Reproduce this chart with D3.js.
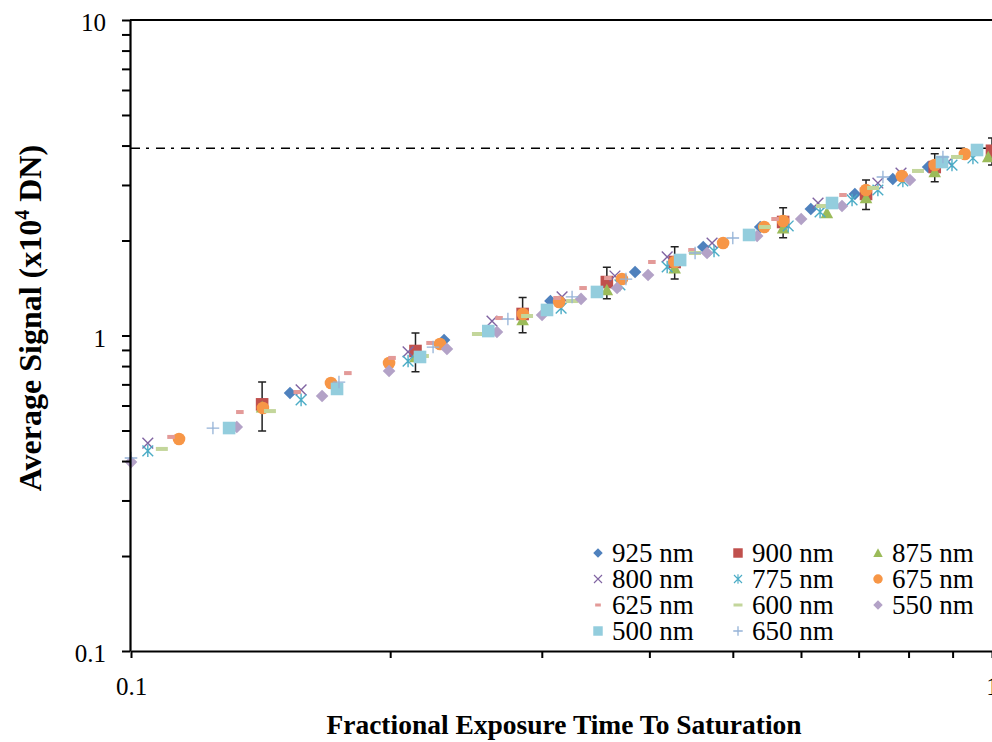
<!DOCTYPE html>
<html>
<head>
<meta charset="utf-8">
<script src="https://cdn.jsdelivr.net/npm/d3@7"></script>
<style>
  body { margin: 0; background: #fff; }
  svg text { font-family: "Liberation Serif", "Times New Roman", Times, serif !important; fill: #000; }
</style>
</head>
<body>
<svg id="chart" width="992" height="742"></svg>
<script>
// values: x = fraction of saturation exposure, y = signal in 1e4 DN
const x925 = [0.153, 0.231, 0.307, 0.385, 0.462, 0.538, 0.616, 0.693, 0.767, 0.843];
const y925 = [0.657, 0.968, 1.286, 1.590, 1.908, 2.207, 2.518, 2.809, 3.133, 3.420];
const x900 = [0.142, 0.214, 0.285, 0.357, 0.428, 0.572, 0.714, 0.858, 1.0];
const y900 = [0.605, 0.893, 1.170, 1.477, 1.710, 2.290, 2.810, 3.420, 3.850];
const err900 = [0.107, 0.125, 0.150, 0.170, 0.200, 0.250, 0.300, 0.350, 0.380];
const x875 = [0.142, 0.214, 0.285, 0.357, 0.428, 0.572, 0.643, 0.714, 0.858, 0.99];
const y875 = [0.593, 0.855, 1.120, 1.394, 1.636, 2.191, 2.445, 2.729, 3.298, 3.680];
const x800 = [0.1046, 0.1576, 0.2098, 0.2626, 0.3167, 0.3648, 0.4195, 0.473, 0.628, 0.737, 0.784, 0.889];
const y800 = [0.456, 0.672, 0.887, 1.111, 1.325, 1.544, 1.774, 1.964, 2.630, 3.043, 3.274, 3.547];
const x775 = [0.1046, 0.1576, 0.2098, 0.3159, 0.3697, 0.4195, 0.4755, 0.5798, 0.6314, 0.6878, 0.737, 0.7879, 0.8985, 0.9503];
const y775 = [0.431, 0.625, 0.830, 1.222, 1.446, 1.649, 1.853, 2.224, 2.463, 2.689, 2.892, 3.088, 3.470, 3.652];
const x675 = [0.1137, 0.1423, 0.1707, 0.1994, 0.2285, 0.2852, 0.3142, 0.3717, 0.428, 0.4872, 0.5438, 0.572, 0.714, 0.7858, 0.858, 0.930];
const y675 = [0.470, 0.589, 0.707, 0.818, 0.940, 1.170, 1.277, 1.510, 1.710, 1.964, 2.207, 2.306, 2.892, 3.203, 3.470, 3.761];
const x625 = [0.1113, 0.1338, 0.156, 0.1786, 0.201, 0.2225, 0.2676, 0.3125, 0.335, 0.358, 0.4027, 0.4483, 0.5598, 0.6713];
const y625 = [0.477, 0.572, 0.662, 0.760, 0.849, 0.947, 1.136, 1.315, 1.414, 1.521, 1.710, 1.866, 2.340, 2.788];
const x600 = [0.1086, 0.145, 0.2183, 0.2529, 0.2884, 0.3253, 0.4519, 0.545, 0.6348, 0.7275, 0.8204, 0.9107];
const y600 = [0.437, 0.576, 0.861, 1.011, 1.153, 1.286, 1.826, 2.207, 2.573, 2.935, 3.323, 3.680];
const x550 = [0.1, 0.1327, 0.1667, 0.1994, 0.2328, 0.2661, 0.3002, 0.3332, 0.3669, 0.3986, 0.4667, 0.5336, 0.6003, 0.6696, 0.803];
const y550 = [0.397, 0.513, 0.643, 0.772, 0.906, 1.026, 1.161, 1.306, 1.414, 1.555, 1.826, 2.068, 2.340, 2.573, 3.111];
const x500 = [0.130, 0.1735, 0.2166, 0.260, 0.3042, 0.3477, 0.4343, 0.5222, 0.6519, 0.8748, 0.9607];
const y500 = [0.509, 0.677, 0.855, 1.033, 1.205, 1.374, 1.735, 2.083, 2.630, 3.547, 3.872];
const x650 = [0.1, 0.1245, 0.1744, 0.2243, 0.274, 0.3253, 0.3757, 0.452, 0.50, 0.747, 0.877];
const y650 = [0.409, 0.509, 0.712, 0.919, 1.128, 1.325, 1.510, 1.826, 2.037, 3.180, 3.680];

const saturation = 3.92;
const xTickLabels = [0.1, 1];
const yTickLabels = [0.1, 1, 10];

const series = [
  {name: '925 nm', color: '#4F81BD', shape: 'diamond', x: x925, y: y925},
  {name: '900 nm', color: '#C0504D', shape: 'square', x: x900, y: y900, err: err900},
  {name: '875 nm', color: '#9BBB59', shape: 'triangle', x: x875, y: y875},
  {name: '800 nm', color: '#8064A2', shape: 'x', x: x800, y: y800},
  {name: '775 nm', color: '#4BACC6', shape: 'star', x: x775, y: y775},
  {name: '675 nm', color: '#F79646', shape: 'circle', x: x675, y: y675},
  {name: '625 nm', color: '#E39A98', shape: 'dashShort', x: x625, y: y625},
  {name: '600 nm', color: '#C3D69B', shape: 'dash', x: x600, y: y600},
  {name: '550 nm', color: '#B3A2C7', shape: 'diamond', x: x550, y: y550},
  {name: '500 nm', color: '#93CDDD', shape: 'square', x: x500, y: y500},
  {name: '650 nm', color: '#95B3D7', shape: 'plus', x: x650, y: y650}
];

const SERIF = 'Liberation Serif';
const svg = d3.select('#chart');
const plotL = 131, plotR = 992, plotT = 20, plotB = 651;

const x = d3.scaleLog().domain([0.1, 1]).range([plotL, plotR]);
const y = d3.scaleLog().domain([0.1, 10]).range([plotB, plotT]);

// marker drawing, k scales the size (legend markers are smaller)
function marker(g, shape, color, k) {
  const s = 6.3 * k;
  if (shape === 'diamond') {
    g.append('path').attr('d', `M0,${-s}L${s},0L0,${s}L${-s},0Z`).attr('fill', color);
  } else if (shape === 'square') {
    g.append('rect').attr('x', -s).attr('y', -s).attr('width', 2 * s).attr('height', 2 * s).attr('fill', color);
  } else if (shape === 'triangle') {
    g.append('path').attr('d', `M0,${-s}L${s},${s * 0.85}L${-s},${s * 0.85}Z`).attr('fill', color);
  } else if (shape === 'circle') {
    g.append('circle').attr('r', s).attr('fill', color);
  } else if (shape === 'x' || shape === 'star') {
    const a = s * 0.85;
    g.append('path').attr('d', `M${-a},${-a}L${a},${a}M${-a},${a}L${a},${-a}` + (shape === 'star' ? `M0,${-s}L0,${s}` : ''))
      .attr('stroke', color).attr('stroke-width', 1.4 * Math.max(k, 0.8)).attr('fill', 'none');
  } else if (shape === 'plus') {
    g.append('path').attr('d', `M${-s},0L${s},0M0,${-s}L0,${s}`)
      .attr('stroke', color).attr('stroke-width', 1.3).attr('fill', 'none');
  } else if (shape === 'dash' || shape === 'dashShort') {
    const w = shape === 'dash' ? s * 1.9 : s * 1.2;
    g.append('rect').attr('x', -w / 2).attr('y', -2 * k).attr('width', w).attr('height', 4 * k).attr('fill', color);
  }
}

// saturation level
svg.append('line')
  .attr('x1', plotL).attr('x2', plotR - 6)
  .attr('y1', y(saturation)).attr('y2', y(saturation))
  .attr('stroke', '#000').attr('stroke-width', 1.6)
  .attr('stroke-dasharray', '9,6,3,7');

// data
series.forEach(sr => {
  const g = svg.append('g');
  if (sr.err) {
    sr.x.forEach((xv, i) => {
      const lo = y(sr.y[i] - sr.err[i]), hi = y(sr.y[i] + sr.err[i]), cx = x(xv);
      g.append('path')
        .attr('d', `M${cx},${lo}L${cx},${hi}M${cx - 4},${lo}L${cx + 4},${lo}M${cx - 4},${hi}L${cx + 4},${hi}`)
        .attr('stroke', '#222').attr('stroke-width', 1.5).attr('fill', 'none');
    });
  }
  sr.x.forEach((xv, i) => {
    const m = g.append('g').attr('transform', `translate(${x(xv)},${y(sr.y[i])})`);
    marker(m, sr.shape, sr.color, 1);
  });
});

// axes
const yTickVals = [];
[0.1, 1].forEach(d => { for (let k = 1; k <= 9; k++) yTickVals.push(d * k); });
yTickVals.push(10);
const xTickVals = d3.range(1, 11).map(k => k / 10);

const fmt = d => (d === 0.1 ? '0.1' : d3.format('d')(d));

const yAxis = svg.append('g').attr('transform', `translate(${plotL - 1},0)`)
  .call(d3.axisLeft(y).tickValues(yTickVals).tickSize(8).tickSizeOuter(0)
    .tickFormat(d => yTickLabels.some(v => Math.abs(v - d) < 1e-9) ? fmt(d) : ''));
const xAxis = svg.append('g').attr('transform', `translate(0,${plotB})`)
  .call(d3.axisBottom(x).tickValues(xTickVals).tickSize(7).tickSizeOuter(0)
    .tickFormat(d => xTickLabels.some(v => Math.abs(v - d) < 1e-9) ? fmt(d) : ''));

[yAxis, xAxis].forEach(a => {
  a.attr('font-family', SERIF);
  a.select('.domain').attr('stroke', '#000').attr('stroke-width', 2.2);
  a.selectAll('.tick line').attr('stroke', '#000').attr('stroke-width', 2);
  a.selectAll('.tick text').attr('font-size', 25).attr('font-family', SERIF);
});
yAxis.selectAll('.tick text').attr('x', -24).attr('dy', '0.42em');
xAxis.selectAll('.tick text').attr('y', 26);

// top border
svg.append('line').attr('x1', plotL - 1).attr('x2', plotR).attr('y1', plotT).attr('y2', plotT)
  .attr('stroke', '#000').attr('stroke-width', 2);

// titles
svg.append('text')
  .attr('x', 564).attr('y', 734)
  .attr('text-anchor', 'middle').attr('font-family', SERIF)
  .attr('font-size', 27.5).attr('font-weight', 'bold')
  .text('Fractional Exposure Time To Saturation');

const yt = svg.append('text')
  .attr('transform', 'translate(41,318) rotate(-90)')
  .attr('text-anchor', 'middle').attr('font-family', SERIF)
  .attr('font-size', 32).attr('font-weight', 'bold');
yt.append('tspan').text('Average Signal (x10');
yt.append('tspan').attr('font-size', 20).attr('dy', -12).text('4');
yt.append('tspan').attr('dy', 12).text(' DN)');

// legend: 3 columns, row-wise
const legCols = [598, 738, 878];
const legRows = [553, 579, 605, 631];
series.forEach((sr, i) => {
  const cx = legCols[i % 3], cy = legRows[Math.floor(i / 3)];
  const g = svg.append('g').attr('transform', `translate(${cx},${cy})`);
  marker(g, sr.shape, sr.color, 0.75);
  svg.append('text').attr('x', cx + 14).attr('y', cy + 9)
    .attr('font-family', SERIF).attr('font-size', 27).text(sr.name);
});
</script>
</body>
</html>
